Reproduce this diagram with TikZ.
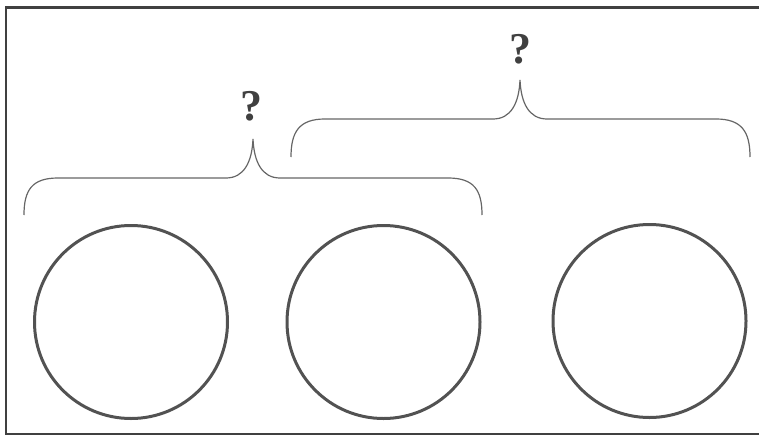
\documentclass[tikz,border=0pt]{standalone}
\usepackage{fontspec}
\setmainfont{Liberation Serif}
\begin{document}
\begin{tikzpicture}[x=1pt,y=-1pt,
  frameline/.style={draw=black!75, line width=2.2pt},
  ring/.style={circle, draw=black!68, line width=3pt, minimum size=193pt, inner sep=0pt},
  bracket/.style={draw=black!60, line width=1.2pt},
  query/.style={font=\bfseries\fontsize{44}{44}\selectfont, text=black!75, inner sep=0pt}]
\useasboundingbox (0,0) rectangle (759,436);
% open frame (top, left, bottom)
\draw[frameline] (759,7.5) -- (6,7.5) -- (6,434) -- (759,434);
% the three circles
\node[ring] (c1) at (131,322) {};
\node[ring] (c2) at (383.5,322) {};
\node[ring] (c3) at (649.5,321) {};
% lower brace over the first two circles
\coordinate (b1l) at (24,215);
\coordinate (b1t) at (253,139);
\coordinate (b1r) at (482,215);
\draw[bracket] (b1l) .. controls (24,190) and (32,178) .. (58,178) -- (226,178)
  .. controls (244,178) and (252,162) .. (b1t)
  .. controls (254,162) and (262,178) .. (280,178) -- (448,178)
  .. controls (474,178) and (482,190) .. (b1r);
% upper brace over the last two circles
\coordinate (b2l) at (291,157);
\coordinate (b2t) at (520,80);
\coordinate (b2r) at (750,157);
\draw[bracket] (b2l) .. controls (291,132) and (299,119) .. (325,119) -- (493,119)
  .. controls (511,119) and (519,103) .. (b2t)
  .. controls (521,103) and (529,119) .. (547,119) -- (716,119)
  .. controls (742,119) and (750,132) .. (b2r);
% labels
\node[query] (q1) at (251,106) {?};
\node[query] (q2) at (520,49) {?};
\end{tikzpicture}
\end{document}
